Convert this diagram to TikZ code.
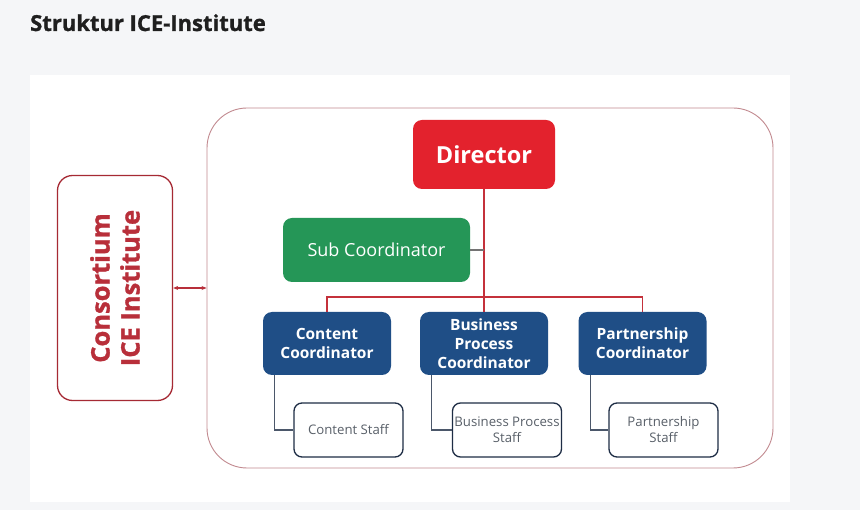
\documentclass[tikz,border=0pt]{standalone}
\usepackage{fontspec}
\setmainfont{Open Sans}
\newfontfamily\heavyfont{Open Sans}[BoldFeatures={FakeBold=1.2}]
\usepackage{xcolor}
\usepackage{tikz}
\usetikzlibrary{arrows.meta}

\definecolor{pagegray}{HTML}{F5F6F8}
\definecolor{dirred}{HTML}{E3222D}
\definecolor{subgreen}{HTML}{259657}
\definecolor{coordblue}{HTML}{1F4E86}
\definecolor{staffnavy}{HTML}{1E2D45}
\definecolor{staffgray}{HTML}{596069}
\definecolor{linered}{HTML}{C4313B}
\definecolor{consred}{HTML}{B82F3A}
\definecolor{framered}{HTML}{C28A90}

\begin{document}
\begin{tikzpicture}[
  x=1pt, y=-1pt,
  dirbox/.style={rounded corners=9pt,fill=dirred,text=white,font=\bfseries\fontsize{23.5}{28}\selectfont,
                 minimum width=142pt,minimum height=69pt,inner sep=0pt},
  subbox/.style={rounded corners=9pt,fill=subgreen,text=white,font=\fontsize{18}{22}\selectfont,
                 minimum width=187pt,minimum height=64pt,inner sep=0pt},
  coordbox/.style={rounded corners=9pt,fill=coordblue,text=white,align=center,
                   font=\bfseries\fontsize{15.5}{19}\selectfont,
                   minimum width=128pt,minimum height=63pt,inner sep=0pt},
  staffbox/.style={draw=staffnavy,line width=1.3pt,rounded corners=8pt,fill=white,text=staffgray,
                   align=center,font=\fontsize{13.2}{16}\selectfont,
                   minimum width=109pt,minimum height=54pt,inner sep=0pt},
  redline/.style={draw=linered,line width=1.4pt},
  staffline/.style={draw=staffnavy!80,line width=1.2pt},
  dbl/.style={{Stealth[length=5pt,width=4pt]}-{Stealth[length=5pt,width=4pt]},draw=consred,line width=1.1pt}
]
% page and white panel
\fill[pagegray] (0,0) rectangle (860,510);
\fill[white] (30,75) rectangle (790,502);
\node[anchor=base west,inner sep=0pt,font=\heavyfont\bfseries\fontsize{22}{26}\selectfont,text=black!88]
  (title) at (30,31) {Struktur ICE-Institute};

% institute frame and consortium
\node[draw=framered,line width=0.9pt,rounded corners=40pt,minimum width=566pt,minimum height=360pt,inner sep=0pt]
  (frame) at (490,288) {};
\node[draw=consred!90!black,line width=1.3pt,rounded corners=15pt,rotate=90,minimum width=225pt,minimum height=115pt,
      align=center,text=consred,font=\heavyfont\bfseries\fontsize{25.5}{30}\selectfont,inner sep=0pt]
  (cons) at (115,288) {Consortium\\ICE Institute};
\draw[dbl] (cons) -- (frame);

% top of the tree
\node[dirbox] (dir) at (484,154.5) {Director};
\node[subbox] (sub) at (376.5,250) {Sub Coordinator};

% coordinators
\node[coordbox] (cc) at (327,343.5) {Content\\Coordinator};
\node[coordbox] (bc) at (484,343.5) {Business\\Process\\Coordinator};
\node[coordbox] (pc) at (642.5,343.5) {Partnership\\Coordinator};

% staff
\node[staffbox] (cs) at (348.5,430) {Content Staff};
\node[staffbox] (bs) at (507,430) {Business Process\\Staff};
\node[staffbox] (ps) at (663.5,430) {Partnership\\Staff};

% connectors
\coordinate (hub) at (484,297);
\draw[redline] (dir.south) -- (hub);
\draw[redline] (cc.north) |- (hub) -| (pc.north);
\draw[redline] (hub) -- (bc.north);
\draw[line width=1.2pt,draw=black!55] (sub.east) -- (sub.east -| dir.south);
\draw[staffline] ([xshift=12pt]cc.south west) |- (cs.west);
\draw[staffline] ([xshift=12pt]bc.south west) |- (bs.west);
\draw[staffline] ([xshift=12pt]pc.south west) |- (ps.west);
\end{tikzpicture}
\end{document}
